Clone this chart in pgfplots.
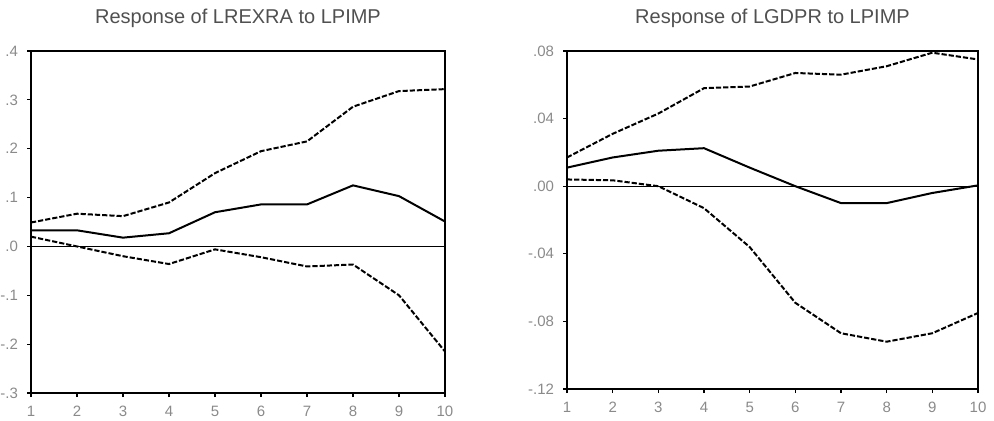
\documentclass[border=0pt]{standalone}
\usepackage{fontspec}
\setmainfont{Liberation Sans}
\usepackage{pgfplots}
\pgfplotsset{compat=1.18}
\definecolor{titlegray}{HTML}{505050}
\definecolor{tickgray}{HTML}{8A8A8A}
\pgfplotsset{
  irf/.style={
    scale only axis,
    xmin=1, xmax=10,
    xtick={1,...,10},
    /pgf/number format/assume math mode=true,
    tick align=outside,
    xtick pos=bottom, ytick pos=left,
    major tick length=2pt,
    tick style={black, line width=0.6pt},
    axis line style={black, line width=1.2pt},
    tick label style={font=\fontsize{7.5}{8}\selectfont, text=tickgray},
    xticklabel style={yshift=-1pt},
    yticklabel style={xshift=-1pt},
    title style={font=\fontsize{10}{12}\selectfont, text=titlegray, yshift=2pt},
    clip=false,
  },
  band/.style={black, line width=1pt, dash pattern=on 2.6pt off 1pt},
  resp/.style={black, line width=1pt},
  zero/.style={black, line width=0.55pt},
}
\begin{document}
\begin{tikzpicture}
\useasboundingbox (0,0) rectangle (497pt,210pt);
% left panel
\begin{axis}[irf,
  at={(15.5pt,13.5pt)}, anchor=south west,
  width=207pt, height=171pt,
  ymin=-0.3, ymax=0.4,
  ytick={-0.3,-0.2,-0.1,0,0.1,0.2,0.3,0.4},
  yticklabels={-.3,-.2,-.1,.0,.1,.2,.3,.4},
  title={Response of LREXRA to LPIMP}]
\addplot[zero] coordinates {(1,0) (10,0)};
\addplot[band] coordinates {(1,0.049)(2,0.067)(3,0.062)(4,0.090)(5,0.150)(6,0.195)(7,0.215)(8,0.286)(9,0.318)(10,0.322)};
\addplot[resp] coordinates {(1,0.033)(2,0.033)(3,0.018)(4,0.027)(5,0.070)(6,0.086)(7,0.086)(8,0.125)(9,0.103)(10,0.051)};
\addplot[band] coordinates {(1,0.020)(2,0.000)(3,-0.020)(4,-0.036)(5,-0.006)(6,-0.022)(7,-0.041)(8,-0.037)(9,-0.100)(10,-0.215)};
\end{axis}
% right panel
\begin{axis}[irf,
  at={(283.5pt,15.5pt)}, anchor=south west,
  width=205.5pt, height=169pt,
  ymin=-0.12, ymax=0.08,
  ytick={-0.12,-0.08,-0.04,0,0.04,0.08},
  yticklabels={-.12,-.08,-.04,.00,.04,.08},
  title={Response of LGDPR to LPIMP}]
\addplot[zero] coordinates {(1,0) (10,0)};
\addplot[band] coordinates {(1,0.017)(2,0.031)(3,0.043)(4,0.058)(5,0.059)(6,0.067)(7,0.066)(8,0.071)(9,0.079)(10,0.075)};
\addplot[resp] coordinates {(1,0.011)(2,0.017)(3,0.021)(4,0.0225)(5,0.011)(6,0.000)(7,-0.010)(8,-0.010)(9,-0.004)(10,0.0005)};
\addplot[band] coordinates {(1,0.004)(2,0.0035)(3,0.000)(4,-0.013)(5,-0.036)(6,-0.069)(7,-0.087)(8,-0.092)(9,-0.087)(10,-0.075)};
\end{axis}
\end{tikzpicture}
\end{document}
